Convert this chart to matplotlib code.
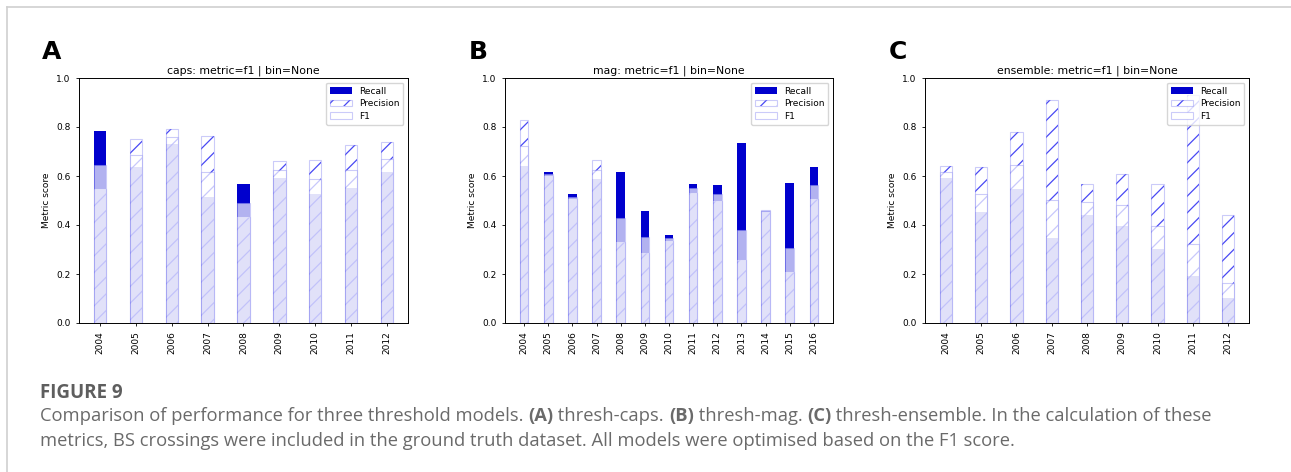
import numpy as np
import matplotlib
matplotlib.use("Agg")
import matplotlib.pyplot as plt
from matplotlib.lines import Line2D
from matplotlib.patches import Patch

plt.rcParams["hatch.linewidth"] = 0.9

# --- data ---
years_caps = ["2004", "2005", "2006", "2007", "2008", "2009", "2010", "2011", "2012"]
recall_caps = [0.782, 0.635, 0.732, 0.513, 0.566, 0.593, 0.528, 0.552, 0.615]
precision_caps = [0.548, 0.751, 0.792, 0.762, 0.433, 0.661, 0.665, 0.725, 0.739]
f1_caps = [0.645, 0.686, 0.759, 0.615, 0.488, 0.626, 0.588, 0.624, 0.669]

years_mag = ["2004", "2005", "2006", "2007", "2008", "2009", "2010", "2011", "2012",
             "2013", "2014", "2015", "2016"]
recall_mag = [0.642, 0.616, 0.528, 0.586, 0.615, 0.459, 0.361, 0.569, 0.563,
              0.735, 0.458, 0.573, 0.635]
precision_mag = [0.827, 0.602, 0.505, 0.665, 0.329, 0.286, 0.336, 0.531, 0.499,
                 0.256, 0.461, 0.210, 0.507]
f1_mag = [0.721, 0.609, 0.516, 0.624, 0.429, 0.350, 0.347, 0.550, 0.528,
          0.378, 0.459, 0.307, 0.563]

years_ens = ["2004", "2005", "2006", "2007", "2008", "2009", "2010", "2011", "2012"]
recall_ens = [0.592, 0.452, 0.548, 0.347, 0.442, 0.397, 0.302, 0.193, 0.102]
precision_ens = [0.641, 0.635, 0.780, 0.910, 0.566, 0.607, 0.566, 0.930, 0.442]
f1_ens = [0.615, 0.527, 0.644, 0.501, 0.493, 0.480, 0.395, 0.321, 0.163]

panels = [
    ("A", "caps: metric=f1 | bin=None", years_caps, recall_caps, precision_caps, f1_caps),
    ("B", "mag: metric=f1 | bin=None", years_mag, recall_mag, precision_mag, f1_mag),
    ("C", "ensemble: metric=f1 | bin=None", years_ens, recall_ens, precision_ens, f1_ens),
]

W, H = 1291, 472
fig = plt.figure(figsize=(W / 100, H / 100), dpi=100)

# axes boxes in pixels: left, right, top, bottom
boxes = [(79, 408, 78, 323), (505, 833, 78, 323), (925, 1249, 78, 323)]
letter_x = [52, 478, 898]

hatch_col = (0.1, 0.1, 0.95, 0.8)
outline_col = (0.55, 0.55, 0.95, 0.45)

for (letter, title, years, rec, prec, f1), (l, r, t, b), lx in zip(panels, boxes, letter_x):
    ax = fig.add_axes([l / W, 1 - b / H, (r - l) / W, (b - t) / H])
    x = np.arange(len(years))
    ax.bar(x, rec, 0.35, color="mediumblue")
    ax.bar(x, prec, 0.35, facecolor=(1, 1, 1, 0.62), edgecolor=hatch_col,
           hatch="//", linewidth=0)
    # thin outline of the precision bars
    ax.bar(x, prec, 0.35, fill=False, edgecolor=outline_col, linewidth=0.8)
    ax.bar(x, f1, 0.35, facecolor=(1, 1, 1, 0.7), edgecolor=outline_col,
           linewidth=0.8)
    ax.set_ylim(0, 1.0)
    ax.set_xticks(x)
    ax.set_xticklabels(years, rotation=90)
    ax.tick_params(labelsize=6.5, length=2.5, width=0.6)
    ax.set_ylabel("Metric score", fontsize=6.5)
    ax.set_title(title, fontsize=7.8, pad=3)
    for s in ax.spines.values():
        s.set_linewidth(0.7)
    h_rec = Patch(facecolor="mediumblue")
    h_prec = (Patch(facecolor="white", edgecolor=hatch_col, hatch="//", linewidth=0),
              Patch(fill=False, edgecolor=outline_col, linewidth=0.8))
    h_f1 = Patch(facecolor="white", edgecolor=outline_col, linewidth=0.8)
    ax.legend([h_rec, h_prec, h_f1], ["Recall", "Precision", "F1"],
              loc="upper right", fontsize=6.5, handlelength=2.4,
              borderpad=0.45, labelspacing=0.4, framealpha=0.8)
    fig.text(lx / W, 1 - 52 / H, letter, fontsize=18, fontweight="bold",
             ha="center", va="center")

# page frame lines
fig.add_artist(Line2D([7 / W, 1], [1 - 7 / H, 1 - 7 / H], color="#d0d0d0", lw=1.2))
fig.add_artist(Line2D([7 / W, 7 / W], [0, 1 - 7 / H], color="#d0d0d0", lw=1.2))

# caption
cap_font = ["Open Sans", "DejaVu Sans"]
fig.text(40 / W, 1 - 393 / H, "FIGURE 9", fontsize=13.5, fontweight="bold",
         color="#5e5e5e", family=cap_font, va="center")

renderer = fig.canvas.get_renderer()


def draw_runs(runs, x0, y0):
    x = x0
    for txt, bold in runs:
        t = fig.text(x / W, 1 - y0 / H, txt, fontsize=13.2, color="#6a6a6a",
                     family=cap_font, fontweight="bold" if bold else "normal",
                     va="center")
        x += t.get_window_extent(renderer).width


draw_runs([("Comparison of performance for three threshold models. ", False),
           ("(A)", True), (" thresh-caps. ", False), ("(B)", True),
           (" thresh-mag. ", False), ("(C)", True),
           (" thresh-ensemble. In the calculation of these", False)], 40, 416)
draw_runs([("metrics, BS crossings were included in the ground truth dataset. "
            "All models were optimised based on the F1 score.", False)], 40, 441)

fig.savefig("out.png", dpi=100)
